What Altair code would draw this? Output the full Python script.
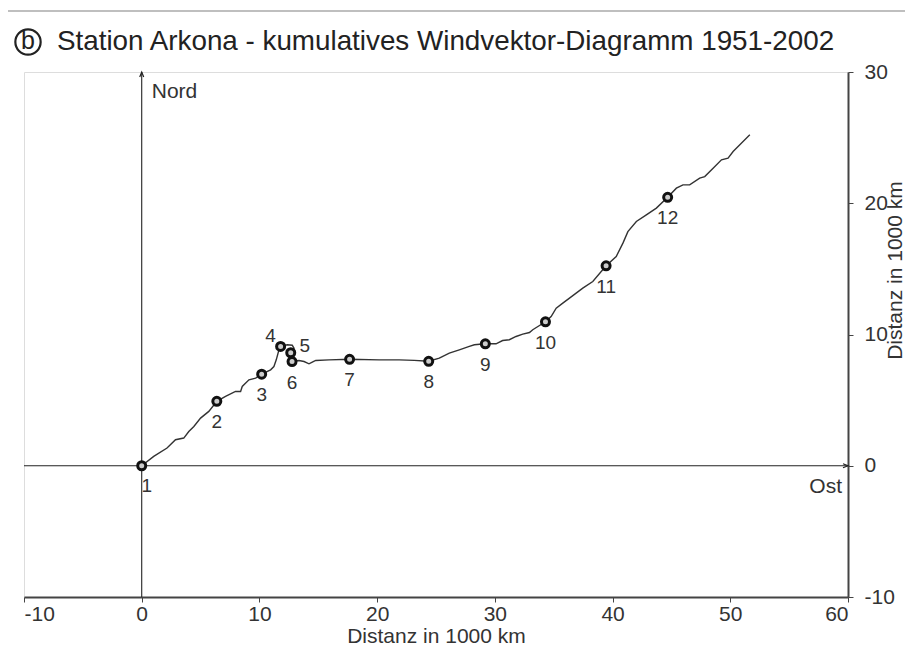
import altair as alt
import pandas as pd

# cumulative wind vector path (1000 km East, 1000 km North)
path_x = [0, 1.02, 2.15, 2.87, 3.57, 4.0, 4.43, 5.0, 5.70, 6.38, 7.12, 7.97, 8.40, 8.54, 9.11, 9.68,
          10.19, 10.95, 11.23, 11.43, 11.66, 11.80, 12.37, 12.79, 12.94, 12.66, 12.77, 13.36, 13.79,
          14.21, 14.49, 14.78, 15.91, 17.66, 20.17, 21.87, 23.15, 24.38, 25.28, 26.13, 26.98, 27.83,
          28.26, 29.19, 30.10, 30.66, 31.23, 31.80, 32.37, 32.94, 33.22, 34.30, 34.78, 35.21, 35.77,
          36.34, 37.47, 38.32, 39.45, 40.31, 40.88, 41.30, 42.02, 42.87, 43.72, 44.68, 45.42, 45.98,
          46.55, 47.40, 47.83, 48.54, 49.25, 49.81, 50.24, 50.81, 51.51, 51.66]
path_y = [0, 0.71, 1.35, 1.98, 2.11, 2.61, 2.99, 3.63, 4.14, 4.91, 5.28, 5.66, 5.66, 6.04, 6.55, 6.68,
          6.98, 7.31, 7.56, 8.07, 8.83, 9.09, 9.22, 9.18, 8.96, 8.61, 7.94, 8.02, 7.94,
          7.77, 7.90, 8.02, 8.07, 8.11, 8.07, 8.07, 8.03, 7.96, 8.20, 8.58, 8.83, 9.09,
          9.22, 9.29, 9.29, 9.54, 9.60, 9.85, 10.03, 10.15, 10.36, 10.97, 11.37, 12.01, 12.39,
          12.77, 13.53, 14.04, 15.23, 15.94, 16.96, 17.84, 18.61, 19.12, 19.63, 20.45, 21.15, 21.40,
          21.40, 21.91, 22.03, 22.67, 23.31, 23.43, 23.94, 24.45, 25.08, 25.21]

# markers
mark_x = [0, 6.38, 10.19, 11.80, 12.66, 12.77, 17.66, 24.38, 29.19, 34.30, 39.45, 44.68]
mark_y = [0, 4.91, 6.98, 9.09, 8.61, 7.94, 8.11, 7.96, 9.29, 10.97, 15.23, 20.45]
mark_lab = ["1", "2", "3", "4", "5", "6", "7", "8", "9", "10", "11", "12"]

x_ticks = [-10, 0, 10, 20, 30, 40, 50, 60]
y_ticks = [-10, 0, 10, 20, 30]

FONT = "Liberation Sans"
TXT = "#333333"
AX_FS = 21
LAB_FS = 19

path_df = pd.DataFrame({"x": path_x, "y": path_y, "i": list(range(len(path_x)))})
mark_df = pd.DataFrame({"x": mark_x, "y": mark_y, "lab": mark_lab})
one = pd.DataFrame({"v": [0]})

xs = alt.Scale(domain=[-10, 60], nice=False, zero=False)
ys = alt.Scale(domain=[-10, 30], nice=False, zero=False)

xaxis = alt.Axis(values=x_ticks, grid=False, labelFontSize=AX_FS, labelColor=TXT, labelFont=FONT,
                 labelExpr="toString(datum.value)",
                 tickColor="#444", tickSize=5, domainColor="#444", domainWidth=2,
                 title="Distanz in 1000 km", titleFontSize=AX_FS, titleFontWeight="normal",
                 titleColor=TXT, titleFont=FONT, titlePadding=1, labelPadding=1)
yaxis = alt.Axis(values=y_ticks, orient="right", grid=False, labelFontSize=AX_FS, labelColor=TXT,
                 labelFont=FONT, labelExpr="toString(datum.value)", labelAlign="left",
                 tickColor="#444", tickSize=5, domainColor="#444", domainWidth=2,
                 title="Distanz in 1000 km", titleFontSize=AX_FS, titleFontWeight="normal",
                 titleColor=TXT, titleFont=FONT, titleAngle=270, titleY=198, titleX=47,
                 titleBaseline="middle", titleAlign="center", labelPadding=11)

base = alt.Chart(path_df)

path = base.mark_line(color="#333", strokeWidth=1.4, clip=False).encode(
    x=alt.X("x:Q", scale=xs, axis=xaxis),
    y=alt.Y("y:Q", scale=ys, axis=yaxis),
    order="i:O",
)

vline = alt.Chart(one).mark_rule(color="#222", strokeWidth=1.1).encode(x=alt.datum(0, scale=xs))
hline = alt.Chart(one).mark_rule(color="#222", strokeWidth=1.1).encode(y=alt.datum(0, scale=ys))

arrow_up = alt.Chart(one).mark_point(shape="M -1 2.5 L 0 0 L 1 2.5", size=16, filled=False,
                                     color="#222", strokeWidth=1.2, opacity=1).encode(
    x=alt.datum(0), y=alt.datum(30))
arrow_right = alt.Chart(one).mark_point(shape="M -1 2.5 L 0 0 L 1 2.5", size=16, filled=False,
                                        color="#222", strokeWidth=1.2, angle=90, opacity=1).encode(
    x=alt.datum(60), y=alt.datum(0))

nord = alt.Chart(one).mark_text(text="Nord", align="left", baseline="middle", dx=10, dy=20,
                                fontSize=AX_FS, font=FONT, color=TXT).encode(
    x=alt.datum(0), y=alt.datum(30))
ost = alt.Chart(one).mark_text(text="Ost", align="right", baseline="middle", dx=-6, dy=21,
                               fontSize=AX_FS, font=FONT, color=TXT).encode(
    x=alt.datum(60), y=alt.datum(0))

pts = alt.Chart(mark_df).mark_point(shape="circle", size=64, filled=False, color="#111",
                                    strokeWidth=3, opacity=1, fill="#ccc", fillOpacity=1).encode(
    x="x:Q", y="y:Q")

lab_main = alt.Chart(mark_df).transform_filter(
    "datum.lab != '1' && datum.lab != '4' && datum.lab != '5'"
).mark_text(dy=21, fontSize=LAB_FS, font=FONT, color=TXT).encode(x="x:Q", y="y:Q", text="lab:N")
lab1 = alt.Chart(mark_df).transform_filter("datum.lab == '1'").mark_text(
    dx=5, dy=20, fontSize=LAB_FS, font=FONT, color=TXT).encode(x="x:Q", y="y:Q", text="lab:N")
lab4 = alt.Chart(mark_df).transform_filter("datum.lab == '4'").mark_text(
    dx=-10, dy=-10, fontSize=LAB_FS, font=FONT, color=TXT).encode(x="x:Q", y="y:Q", text="lab:N")
lab5 = alt.Chart(mark_df).transform_filter("datum.lab == '5'").mark_text(
    dx=14, dy=-7, fontSize=LAB_FS, font=FONT, color=TXT).encode(x="x:Q", y="y:Q", text="lab:N")

title = alt.Chart(one).mark_text(text="Station Arkona - kumulatives Windvektor-Diagramm 1951-2002",
                                 align="left", baseline="middle", fontSize=27.8, font=FONT,
                                 color="#222").encode(x=alt.value(33), y=alt.value(-30))
bcircle = alt.Chart(one).mark_point(shape="circle", size=640, filled=False, color="#222",
                                    strokeWidth=2.2, opacity=1).encode(x=alt.value(4), y=alt.value(-30))
btext = alt.Chart(one).mark_text(text="b", align="center", baseline="middle", fontSize=25,
                                 font=FONT, color="#222", dy=-1).encode(x=alt.value(4), y=alt.value(-30))

frame_v = alt.Chart(one).mark_rule(color="#aaa", strokeWidth=1.5).encode(
    x=alt.value(-19), y=alt.value(-61), y2=alt.value(600))
frame_h = alt.Chart(one).mark_rule(color="#aaa", strokeWidth=1.5).encode(
    x=alt.value(-19), x2=alt.value(900), y=alt.value(-61))

chart = alt.layer(
    frame_v, frame_h, vline, hline, path, arrow_up, arrow_right, nord, ost, pts,
    lab_main, lab1, lab4, lab5, title, bcircle, btext
).properties(
    width=824, height=525,
    autosize=alt.AutoSizeParams(type="none"),
    padding={"left": 16, "top": 64, "right": 57, "bottom": 52},
).configure_view(stroke="#555", strokeWidth=2).configure(font=FONT)

chart.save("out.html", embed_options={"renderer": "svg", "actions": False})
